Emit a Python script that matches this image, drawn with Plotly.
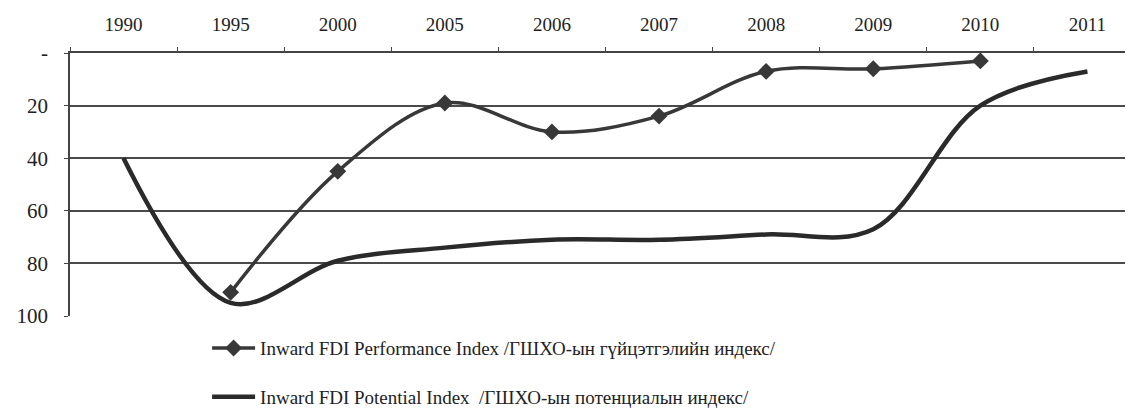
import plotly.graph_objects as go

years = ["1990", "1995", "2000", "2005", "2006", "2007", "2008", "2009", "2010", "2011"]
performance = [None, 91, 45, 19, 30, 24, 7, 6, 3, None]
potential = [40, 95, 79, 74, 71, 71, 69, 67, 20, 7]
y_ticks = [0, 20, 40, 60, 80, 100]
y_ticktext = ["-", "20", "40", "60", "80", "100"]

perf_name = "Inward FDI Performance Index /ГШХО-ын гүйцэтгэлийн индекс/"
pot_name = "Inward FDI Potential Index  /ГШХО-ын потенциалын индекс/"

line_col = "#383838"
font_family = "Liberation Serif"

fig = go.Figure()
fig.add_trace(go.Scatter(
    x=years, y=performance, name=perf_name, mode="lines+markers",
    line=dict(color=line_col, width=3.5, shape="spline", smoothing=1.0),
    marker=dict(symbol="diamond", size=13, color=line_col),
    legendgroup="a", connectgaps=False,
))
fig.add_trace(go.Scatter(
    x=years, y=potential, name=pot_name, mode="lines",
    line=dict(color="#2a2a2a", width=4.5, shape="spline", smoothing=1.0),
    legendgroup="b",
))

fig.update_layout(
    width=1133, height=412,
    margin=dict(l=62, r=0, t=45, b=104, autoexpand=False),
    paper_bgcolor="white", plot_bgcolor="white",
    font=dict(family=font_family, color="#222", size=19),
    showlegend=True,
    legend=dict(
        x=0.128, y=-0.05, xanchor="left", yanchor="top",
        orientation="v", tracegroupgap=21, itemwidth=43,
        font=dict(family=font_family, size=19, color="#222"),
        bgcolor="rgba(0,0,0,0)",
    ),
)
fig.update_xaxes(
    type="category", side="top", tickson="boundaries",
    ticks="outside", ticklen=4, tickcolor="#444",
    showgrid=False, showline=True, linecolor="#444", linewidth=1.5,
    tickfont=dict(family=font_family, size=19, color="#222"),
    ticklabelstandoff=13, automargin=False,
    range=[-0.5, 9.5],
)
fig.update_yaxes(
    range=[100, 0], tickvals=y_ticks, ticktext=y_ticktext,
    ticks="outside", ticklen=4, tickcolor="#444",
    showgrid=True, gridcolor="#4a4a4a", gridwidth=1.5,
    showline=True, linecolor="#444", linewidth=1.5,
    zeroline=False, automargin=False,
    tickfont=dict(family=font_family, size=21, color="#222"),
    ticklabelstandoff=12,
)

fig.write_html("out.html")
